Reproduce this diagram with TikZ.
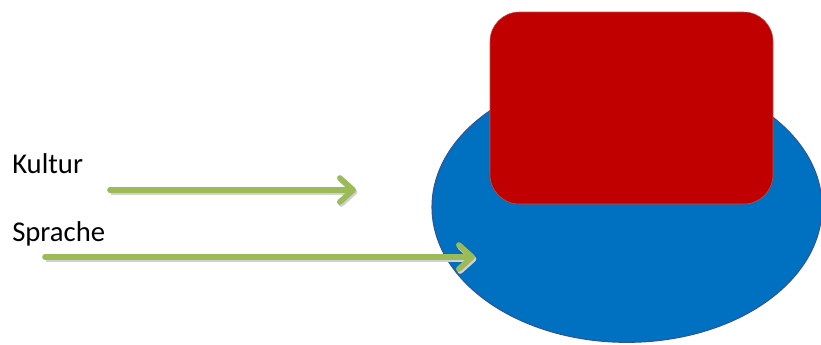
\documentclass[tikz,border=0pt]{standalone}
\usepackage{fontspec}
\setmainfont{Carlito}
\usetikzlibrary{arrows.meta,shapes.geometric}

\definecolor{blau}{HTML}{0070C0}
\definecolor{blaurand}{HTML}{2F5597}
\definecolor{rot}{HTML}{C00000}
\definecolor{rotrand}{HTML}{C0504D}
\definecolor{gruen}{HTML}{9BBB59}

\tikzset{
    pfeil/.style={draw=gruen, line width=4.2pt, line cap=round,
        -{Straight Barb[length=10pt,width=18pt,round]},
        preaction={draw=black!18, line width=4.2pt, transform canvas={xshift=1pt,yshift=-1.5pt}, -{Straight Barb[length=10pt,width=18pt,round]}}},
    beschriftung/.style={anchor=base west, inner sep=0pt, font=\fontsize{21.5}{25}\selectfont}
}

\begin{document}
\begin{tikzpicture}[x=0.75pt, y=-0.75pt]
    % page size of the reference
    \useasboundingbox (0,0) rectangle (821,344);

    \node (oval) at (627,207) [ellipse, draw=blaurand, line width=0.8pt, fill=blau, minimum width=292.5pt, minimum height=203pt, inner sep=0pt] {};
    \node (kasten) at (631.5,108) [draw=rotrand, fill=rot, rounded corners=22pt, minimum width=212.25pt, minimum height=144pt, inner sep=0pt] {};

    \node (kultur) at (12,173) [beschriftung] {Kultur};
    \node (sprache) at (12,241) [beschriftung] {Sprache};

    \coordinate (k1) at (110,190);
    \coordinate (k2) at (356,190);
    \coordinate (s1) at (45,257);
    \coordinate (s2) at (475,257);

    \draw [pfeil] (k1) -- (k2);
    \draw [pfeil] (s1) -- (s2);

\end{tikzpicture}
\end{document}
